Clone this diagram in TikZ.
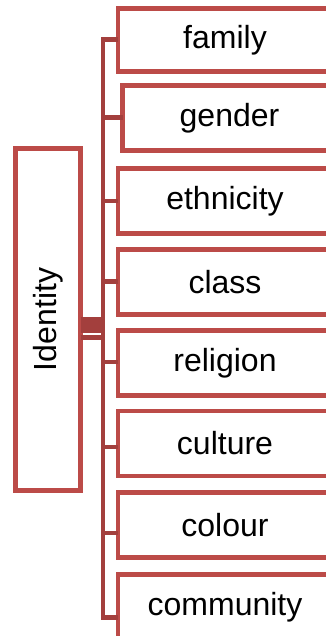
\documentclass[tikz,border=0pt]{standalone}
\usepackage{fontspec}
\setmainfont{Liberation Sans}
\definecolor{boxred}{HTML}{BC4B48}
\definecolor{linkred}{HTML}{A33F3D}
\begin{document}
\begin{tikzpicture}[x=1pt,y=-1pt,
  item/.style={draw=boxred, line width=4.6pt, fill=white, outer sep=0pt,
    inner sep=0pt, minimum width=214pt, minimum height=65pt,
    font=\fontsize{32}{37}\selectfont, anchor=west},
  link/.style={draw=linkred, line width=4.6pt, line cap=butt}]
\useasboundingbox (0,0) rectangle (326,636);

% root
\node[item, anchor=center, rotate=90, minimum width=342pt, minimum height=65pt]
  (identity) at (48,319.5) {Identity};

% children
\node[item, minimum height=63.5pt] (family)    at (118,40)    {family};
\node[item] (gender)    at (122.5,118) {gender};
\node[item] (ethnicity) at (118,201)   {ethnicity};
\node[item] (class)     at (118,282)   {class};
\node[item] (religion)  at (118,363)   {religion};
\node[item] (culture)   at (118,443.5) {culture};
\node[item] (colour)    at (118,525)   {colour};
\node[item] (community) at (118,607)   {community};

% trunk and branch points
\coordinate (top)    at (103,39.5);
\coordinate (bottom) at (103,617.5);
\coordinate (jfam)  at (103,39.5);
\coordinate (jgen)  at (103,117.5);
\coordinate (jeth)  at (103,201);
\coordinate (jcla)  at (103,281.5);
\coordinate (jrel)  at (103,362);
\coordinate (jcul)  at (103,447);
\coordinate (jcol)  at (103,533);
\coordinate (jcom)  at (103,617.5);
\coordinate (hub)   at (103,325);
\coordinate (hubb)  at (103,337.5);

\draw[link, line cap=rect] (top) -- (bottom);
\draw[link] (jfam) -- (jfam -| family.west);
\draw[link] (jgen) -- (jgen -| gender.west);
\draw[link] (jeth) -- (jeth -| ethnicity.west);
\draw[link] (jcla) -- (jcla -| class.west);
\draw[link] (jrel) -- (jrel -| religion.west);
\draw[link] (jcul) -- (jcul -| culture.west);
\draw[link] (jcol) -- (jcol -| colour.west);
\draw[link] (jcom) -- (jcom -| community.west);

% root link
\draw[link, line width=16pt] (hub -| identity.south) -- (hub);
\draw[link] (hubb -| identity.south) -- (hubb);
\end{tikzpicture}
\end{document}
